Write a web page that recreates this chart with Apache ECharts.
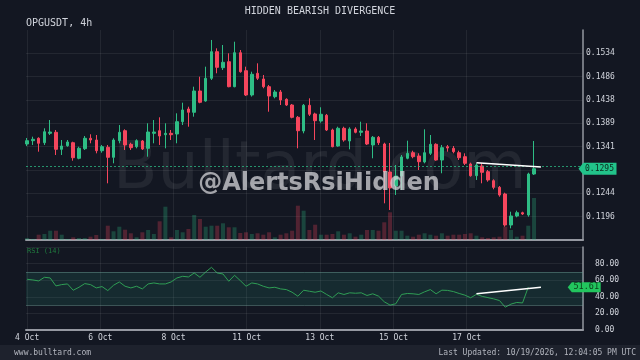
<!DOCTYPE html>
<html><head><meta charset="utf-8">
<script src="https://cdn.jsdelivr.net/npm/echarts@6/dist/echarts.min.js"></script>
<style>html,body{margin:0;padding:0;background:#131722;}#c{width:640px;height:360px;}</style>
</head><body><div id="c"></div>
<script>
// ---- data (OPGUSDT 4h) ----
const opens = [0.13463,0.13532,0.13582,0.13490,0.13685,0.13706,0.13353,0.13428,0.13490,0.13167,
0.13366,0.13582,0.13546,0.13324,0.13395,0.13187,0.13532,0.13739,0.13457,0.13407,
0.13526,0.13374,0.13685,0.13739,0.13656,0.13685,0.13671,0.13926,0.14189,0.14121,
0.14563,0.14355,0.14826,0.15378,0.15046,0.15170,0.14652,0.15357,0.14984,0.14480,
0.14930,0.14812,0.14652,0.14445,0.14542,0.14390,0.14272,0.14017,0.13733,0.14266,
0.14086,0.13940,0.14059,0.13754,0.13422,0.13789,0.13526,0.13775,0.13706,0.13733,
0.13443,0.13602,0.13463,0.12883,0.12592,0.12800,0.13167,0.13283,0.13214,0.13090,
0.13270,0.13457,0.13131,0.13407,0.13374,0.13283,0.13200,0.13049,0.12806,0.13007,
0.12889,0.12702,0.12565,0.12426,0.11783,0.11970,0.12038,0.11991,0.12841];
const closes = [0.13532,0.13561,0.13478,0.13718,0.13712,0.13353,0.13422,0.13505,0.13179,0.13374,
0.13582,0.13546,0.13324,0.13407,0.13187,0.13546,0.13706,0.13443,0.13387,0.13532,
0.13360,0.13712,0.13712,0.13629,0.13685,0.13656,0.13926,0.14169,0.14121,0.14563,
0.14328,0.14826,0.15378,0.15054,0.15158,0.14652,0.15357,0.14963,0.14480,0.14909,
0.14826,0.14652,0.14459,0.14542,0.14376,0.14272,0.14017,0.13739,0.14266,0.14080,
0.13947,0.14080,0.13754,0.13407,0.13789,0.13546,0.13775,0.13706,0.13733,0.13463,
0.13602,0.13490,0.12889,0.12551,0.12800,0.13194,0.13270,0.13200,0.13096,0.13283,
0.13457,0.13131,0.13387,0.13380,0.13304,0.13179,0.13063,0.12806,0.13028,0.12876,
0.12717,0.12565,0.12405,0.11783,0.11970,0.12038,0.12011,0.12841,0.12950];
const lows = [0.13422,0.13443,0.13304,0.13443,0.13650,0.13235,0.13235,0.13407,0.13117,0.13146,
0.13339,0.13478,0.13270,0.13283,0.12648,0.13063,0.13478,0.13339,0.13339,0.13374,
0.13339,0.13200,0.13478,0.13443,0.13374,0.13546,0.13478,0.13857,0.13822,0.14030,
0.14308,0.14341,0.14791,0.14930,0.14998,0.14640,0.14640,0.14942,0.14459,0.14447,
0.14791,0.14619,0.14133,0.14411,0.14272,0.14252,0.13996,0.13374,0.13685,0.14044,
0.13546,0.13905,0.13733,0.13395,0.13407,0.13511,0.13353,0.13685,0.13629,0.13443,
0.13167,0.13443,0.12233,0.12094,0.12405,0.12509,0.13146,0.13167,0.12924,0.13063,
0.13235,0.13117,0.12856,0.13304,0.13270,0.13131,0.13028,0.12785,0.12717,0.12648,
0.12681,0.12524,0.12370,0.11748,0.11714,0.11943,0.11991,0.11955,0.12820];
const highs = [0.13588,0.13615,0.13602,0.13789,0.13961,0.13754,0.13546,0.13546,0.13511,0.13407,
0.13629,0.13665,0.13650,0.13443,0.13443,0.13582,0.13857,0.13768,0.13490,0.13561,
0.13546,0.13893,0.13961,0.14017,0.13893,0.13754,0.14100,0.14320,0.14237,0.14652,
0.14859,0.15067,0.15621,0.15448,0.15517,0.15345,0.15585,0.15413,0.15067,0.14963,
0.15137,0.14895,0.14687,0.14583,0.14583,0.14411,0.14293,0.14044,0.14293,0.14411,
0.14113,0.14225,0.14086,0.13781,0.13822,0.13822,0.13810,0.13810,0.13926,0.13893,
0.13629,0.13629,0.13490,0.13484,0.13028,0.13235,0.13532,0.13324,0.13270,0.13768,
0.13650,0.13478,0.13443,0.13443,0.13422,0.13324,0.13270,0.13076,0.13063,0.13063,
0.12924,0.12731,0.12592,0.12453,0.12059,0.12080,0.12059,0.12868,0.13526];
const volumes = [2,1,5.3,6,9.3,9.3,5.3,1,2.7,2, 2,3.3,5,1,14.3,8.7,13.3,10.3,6.7,2.7,
7.7,10,6,18.7,33.3,2.7,10,7.7,11,25, 21,13.3,14.3,14.3,16.7,12.7,12.7,7,7.7,6,
6.7,5.3,7.7,2.7,5.3,6.7,9.3,34.3,29.3,10, 15.3,5.3,5.3,6,8.7,5.3,6.7,3.3,5.3,10,
10,9.3,17.7,27.7,9.3,9.3,4.3,3.3,5.3,6.7, 5.3,4.3,6.7,4.3,5.3,5.3,6,6.7,4.3,2.7,
2,2.7,3.3,13.3,10,3.3,4.3,14.3,42];
const rsiValues = [61.1,60.3,59.1,63.5,62.7,53.1,54.7,55.5,47.9,51.5,
55.9,54.7,50.7,52.3,47.5,53.9,57.9,52.7,50.7,52.7,
49.5,55.5,56.7,55.5,55.5,57.9,62.7,64.7,63.9,68.7,
63.5,69.9,75.5,68.7,67.5,58.7,65.9,59.5,52.7,56.7,
55.5,52.7,50.7,51.5,49.5,48.7,45.5,40.7,47.9,46.7,
45.5,47.0,42.8,38.8,44.8,42.8,44.8,44.3,44.8,41.6,
43.6,40.8,34.0,30.0,31.6,42.8,44.0,43.6,42.8,46.0,
48.7,43.6,48.0,47.7,46.3,44.0,42.0,38.8,43.0,40.5,
39.0,37.5,35.5,27.5,31.2,33.2,32.6,51.61];
const dateTickPos = [0, 12.7, 25.4, 38.1, 50.8, 63.6, 76.3];
const dateTickLabels = ['4 Oct','6 Oct','8 Oct','11 Oct','13 Oct','15 Oct','17 Oct'];
const priceTicks = [0.11956,0.12440,0.12924,0.13408,0.13892,0.14376,0.14860,0.15344];
const rsiTicks = [0, 20, 40, 60, 80];
const lastPrice = 0.1295;
const lastRsi = 51.61;
const priceDivX = [78, 89.2];
const priceDivY = [0.13075, 0.12984];
const rsiDivX = [78, 89.2];
const rsiDivY = [43.6, 51.5];
const rsiBand = [30, 70];

// ---- chart ----
const UP = '#2ebd85', DOWN = '#f6465d';
const MONO = '"DejaVu Sans Mono", monospace';
const GRIDLINE = 'rgba(255,255,255,0.07)';
const step = priceTicks[1] - priceTicks[0];
const yMin = priceTicks[0] - step, yMax = priceTicks[priceTicks.length - 1] + step;
const xMin = -0.2, xMax = 96.5;

const candleData = opens.map((o, i) => [i, o, closes[i], lows[i], highs[i]]);
const volData = volumes.map((v, i) => ({
  value: [i, v],
  itemStyle: { color: closes[i] >= opens[i] ? 'rgba(46,189,133,0.28)' : 'rgba(246,70,93,0.28)' }
}));
const rsiData = rsiValues.map((v, i) => [i, v]);
const tagPath = 'path://M0,6 L5,0 L40,0 L40,12 L5,12 Z';

const chart = echarts.init(document.getElementById('c'), null, { renderer: 'canvas' });
chart.setOption({
  animation: false,
  backgroundColor: '#131722',
  title: [
    { text: 'HIDDEN BEARISH DIVERGENCE', left: 'center', top: 6, padding: 0,
      textStyle: { color: '#d1d4dc', fontSize: 10, fontWeight: 'normal', fontFamily: MONO } },
    { text: 'OPGUSDT, 4h', left: 26, top: 18, padding: 0,
      textStyle: { color: '#d1d4dc', fontSize: 10, fontWeight: 'normal', fontFamily: MONO } }
  ],
  grid: [
    { left: 26, right: 57, top: 30, bottom: 120, outerBoundsMode: 'none' },
    { left: 26, right: 57, top: 247, bottom: 30, outerBoundsMode: 'none' }
  ],
  xAxis: [
    { gridIndex: 0, type: 'value', min: xMin, max: xMax,
      axisLine: { show: true, onZero: false, lineStyle: { color: '#9598a1', width: 2 } },
      axisTick: { show: false, customValues: dateTickPos },
      axisLabel: { show: false, customValues: dateTickPos },
      splitLine: { show: true, lineStyle: { color: GRIDLINE, width: 1 } } },
    { gridIndex: 1, type: 'value', min: xMin, max: xMax,
      axisLine: { show: true, onZero: false, lineStyle: { color: '#9598a1', width: 2 } },
      axisTick: { show: false, customValues: dateTickPos },
      axisLabel: { show: true, customValues: dateTickPos, color: '#d1d4dc', fontSize: 8, fontFamily: MONO, margin: 4,
        formatter: v => { const k = dateTickPos.indexOf(v); return k >= 0 ? dateTickLabels[k] : ''; } },
      splitLine: { show: true, lineStyle: { color: GRIDLINE, width: 1 } } }
  ],
  yAxis: [
    { gridIndex: 0, type: 'value', position: 'right', min: yMin, max: yMax,
      axisLine: { show: true, onZero: false, lineStyle: { color: '#9598a1', width: 1.5 } },
      axisTick: { show: false, customValues: priceTicks },
      axisLabel: { customValues: priceTicks, color: '#d1d4dc', fontSize: 8, fontFamily: MONO, margin: 3,
        formatter: v => v.toFixed(4) },
      splitLine: { show: true, lineStyle: { color: GRIDLINE, width: 1 } } },
    { gridIndex: 0, type: 'value', min: 0, max: 210, show: false, splitLine: { show: false } },
    { gridIndex: 1, type: 'value', position: 'right', min: 0, max: 100, interval: 20,
      axisLine: { show: true, onZero: false, lineStyle: { color: '#9598a1', width: 1.5 } },
      axisTick: { show: false },
      axisLabel: { color: '#d1d4dc', fontSize: 8, fontFamily: MONO, margin: 12, showMaxLabel: false,
        formatter: v => v.toFixed(2) },
      splitLine: { show: true, lineStyle: { color: GRIDLINE, width: 1 } } }
  ],
  series: [
    { type: 'bar', name: 'Volume', xAxisIndex: 0, yAxisIndex: 1, data: volData, barWidth: 4, z: 2 },
    { type: 'candlestick', name: 'OPGUSDT', xAxisIndex: 0, yAxisIndex: 0,
      encode: { x: 0, y: [1, 2, 3, 4] },
      data: candleData, barWidth: 3, z: 3,
      itemStyle: { color: UP, color0: DOWN, borderColor: UP, borderColor0: DOWN, borderWidth: 1 },
      markLine: { silent: true, symbol: 'none', animation: false,
        lineStyle: { color: 'rgba(46,189,133,0.75)', type: [2, 2], width: 1 },
        label: { show: false },
        data: [{ yAxis: lastPrice }] },
      markPoint: { silent: true, animation: false,
        data: [{ coord: [xMax, lastPrice], symbol: tagPath, symbolSize: [38, 12], symbolOffset: [14.5, 0],
          itemStyle: { color: '#22c38a' },
          label: { show: true, position: 'inside', offset: [2, 0], formatter: lastPrice.toFixed(4),
            color: '#0b2a1d', fontSize: 8, fontFamily: MONO } }] } },
    { type: 'line', name: 'PriceDiv', xAxisIndex: 0, yAxisIndex: 0, symbol: 'none', z: 6,
      data: priceDivX.map((x, i) => [x, priceDivY[i]]),
      lineStyle: { color: '#ffffff', width: 1.5 } },
    { type: 'line', name: 'RSI', xAxisIndex: 1, yAxisIndex: 2, symbol: 'none', z: 4,
      data: rsiData, lineStyle: { color: '#2f9e55', width: 1 },
      markArea: { silent: true, itemStyle: { color: 'rgba(45,150,125,0.16)' },
        data: [[{ yAxis: rsiBand[0] }, { yAxis: rsiBand[1] }]] },
      markLine: { silent: true, symbol: 'none', animation: false,
        lineStyle: { color: 'rgba(110,160,150,0.45)', type: 'solid', width: 1 },
        label: { show: false },
        data: [{ yAxis: rsiBand[0] }, { yAxis: rsiBand[1] }] },
      markPoint: { silent: true, animation: false,
        data: [{ coord: [xMax, lastRsi], symbol: tagPath, symbolSize: [33, 10], symbolOffset: [1.2, 0],
          itemStyle: { color: '#22c55e' },
          label: { show: true, position: 'inside', offset: [2, 0], formatter: lastRsi.toFixed(2),
            color: '#0b3d1a', fontSize: 8.5, fontFamily: MONO } }] } },
    { type: 'line', name: 'RsiDiv', xAxisIndex: 1, yAxisIndex: 2, symbol: 'none', z: 6,
      data: rsiDivX.map((x, i) => [x, rsiDivY[i]]),
      lineStyle: { color: '#ffffff', width: 1.5 } }
  ],
  graphic: [
    { type: 'rect', z: 0, shape: { x: 0, y: 345, width: 640, height: 15 }, style: { fill: '#1e222d' } },
    { type: 'text', z: 1, x: 14, y: 353, style: { text: 'www.bulltard.com', fill: '#b2b5be',
      font: '8px ' + MONO, verticalAlign: 'middle' } },
    { type: 'text', z: 1, x: 636, y: 353, style: { text: 'Last Updated: 10/19/2026, 12:04:05 PM UTC', fill: '#b2b5be',
      font: '8px ' + MONO, align: 'right', verticalAlign: 'middle' } },
    { type: 'text', z: 1, x: 113, y: 171, style: { text: 'Bulltard.com', fill: 'rgba(255,255,255,0.07)',
      font: '65px "DejaVu Sans"', verticalAlign: 'middle' } },
    { type: 'text', z: 100, x: 319, y: 183.7, style: { text: '@AlertsRsiHidden', fill: 'rgba(212,212,216,0.75)',
      font: 'bold 24px "DejaVu Sans"', align: 'center', verticalAlign: 'middle' } },
    { type: 'text', z: 1, x: 27, y: 251, style: { text: 'RSI (14)', fill: '#1f7a3e',
      font: '7px ' + MONO, verticalAlign: 'middle' } }
  ]
});
</script>
</body></html>
